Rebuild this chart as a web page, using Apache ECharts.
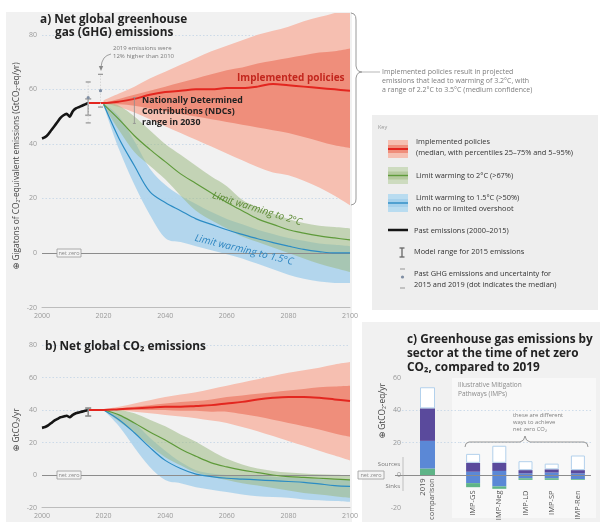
<!DOCTYPE html>
<html>
<head>
<meta charset="utf-8">
<script src="https://cdn.jsdelivr.net/npm/echarts@6/dist/echarts.min.js"></script>
<style>
  html, body { margin: 0; padding: 0; background: #fff; }
  #chart { width: 600px; height: 522px; }
</style>
</head>
<body>
<div id="chart"></div>
<script>
// ---------- data ----------
const pastYears = [2000, 2001, 2002, 2003, 2004, 2005, 2006, 2007, 2008, 2009, 2010, 2011, 2012, 2013, 2014, 2015];
const ghgPast = [42, 42.5, 43.5, 45, 46.5, 48, 49.5, 50.5, 51, 50, 52, 53, 53.5, 54, 54.5, 55];
const co2Past = [29, 29.5, 30.5, 32, 33.5, 34.5, 35.5, 36, 36.5, 35.5, 37, 38, 38.5, 39, 39.5, 40];

const redYears = [2015, 2020, 2025, 2030, 2035, 2040, 2045, 2050, 2055, 2060, 2065, 2070, 2075, 2080, 2085, 2090, 2095, 2100];
const scenYears = [2020, 2025, 2030, 2035, 2040, 2045, 2050, 2055, 2060, 2065, 2070, 2075, 2080, 2085, 2090, 2095, 2100];

// a) net GHG, GtCO2-eq/yr
const policyMedGhg = [55, 55, 55.5, 56.5, 58, 59, 59.5, 60, 60, 60.5, 60.5, 61, 62, 61.5, 61, 60.5, 60, 59.5];
const policyP5Ghg  = [55, 53.5, 51.5, 49, 46.5, 44, 41.5, 39, 36.5, 34, 31.5, 29.5, 28.5, 26.5, 24, 21, 17.5];
const policyP25Ghg = [55, 54.5, 54, 53, 52, 51, 50, 49, 48, 47, 46, 45, 44, 42.5, 41, 39.5, 38.5];
const policyP75Ghg = [55, 56.5, 58, 59.5, 61, 62.5, 64, 65.5, 67, 68, 69.5, 70.5, 71.5, 72.5, 73.5, 74, 75];
const policyP95Ghg = [56, 58.5, 61, 64, 66.5, 69, 71.5, 74, 76, 78, 80, 81.5, 83, 85, 86.5, 88, 90];
const twoMedGhg  = [54.5, 49, 43, 38, 33.5, 29, 25.5, 22, 18.5, 15.5, 12.5, 10.5, 8.5, 7.3, 6.3, 5.5, 4.8];
const twoLowGhg  = [54, 45, 37, 32, 27, 21, 15.5, 12, 9, 6, 4, 2, 0, -2, -4, -5.5, -7];
const twoHighGhg = [55.5, 54, 50, 45, 40, 36, 32, 28, 24.5, 19.5, 16.5, 14.5, 12.5, 11, 10, 9.5, 9];
const oneFiveMedGhg  = [54.5, 42, 32, 22.5, 18.5, 15.5, 12.5, 10.5, 8.5, 6.8, 5.2, 3.8, 2.5, 1.3, 0.5, 0, 0];
const oneFiveLowGhg  = [54, 38, 25, 14, 5.5, 4, 2.5, 1, -0.5, -2, -4, -6, -8, -9.5, -10.5, -11, -11];
const oneFiveHighGhg = [55, 50, 41, 31, 25, 21, 18, 15, 12.5, 10.5, 8.5, 7, 5.5, 4.5, 3.5, 3, 2.5];

// uncertainty markers, GtCO2-eq/yr: [year, low, high] and [year, low, median, high]
const modelRange2015Ghg = [[2015, 50.5, 56.5]];
const pastUncertaintyGhg = [[2015, 47.7, 57, 62.7], [2019, 53.5, 59.5, 65.5]];
const ndcRange2030 = [[2030, 47.5, 57]];

// b) net CO2, GtCO2/yr
const policyMedCo2 = [40, 40, 40.5, 41, 41.5, 42, 42, 42.5, 43, 44, 45, 46.5, 47.5, 48, 48, 47.5, 46.5, 45.5];
const policyP5Co2  = [40, 39.5, 39, 38, 37, 36, 35, 33.5, 32, 29.5, 27, 24, 21, 18, 15, 12, 9];
const policyP25Co2 = [40, 40, 40, 40, 40, 39.5, 39.5, 39, 39, 37.5, 36, 34, 32, 30, 28, 25.5, 23.5];
const policyP75Co2 = [40, 41, 42, 43, 44, 45, 45.5, 46.5, 48, 49, 50, 51, 52, 53, 54, 54.5, 55];
const policyP95Co2 = [40.5, 42, 44, 46, 48, 49.5, 51, 53, 55, 57, 59, 61, 63, 64.5, 66, 68, 69.5];
const twoMedCo2  = [40, 37, 32, 26.5, 21.5, 16, 11.5, 7.5, 5, 3, 1.5, 0, -1, -1.5, -2, -2.5, -3];
const twoLowCo2  = [40, 33, 26, 18, 11, 6, 1.5, -1, -3, -5, -6.5, -8, -9.5, -11, -12, -13, -14];
const twoHighCo2 = [40.5, 40, 38, 34, 30, 25, 20.5, 15, 10, 6.5, 4, 2.5, 1.5, 1, 0.5, 0.2, 0];
const oneFiveMedCo2  = [40, 34, 26, 17, 9, 4, 0.5, -1, -2, -2.5, -3, -3.5, -4, -4.5, -5.5, -6.5, -7];
const oneFiveLowCo2  = [40, 30, 17, 5, -3, -5, -7.5, -9, -10.5, -12, -13, -13.5, -14, -15, -15.5, -16, -16.5];
const oneFiveHighCo2 = [40.5, 37, 32, 23, 15, 8, 3, 1, 0, 0, -0.5, -1, -1.5, -2, -2.5, -3, -3];
const modelRange2015Co2 = [[2015, 36.3, 41.2]];

// c) emissions by sector at net zero CO2, GtCO2-eq/yr
const sectorCategories = ['2019\ncomparison', 'IMP-GS', 'IMP-Neg', 'IMP-LD', 'IMP-SP', 'IMP-Ren'];
const sectorGreenSrc  = [4, 0, 0, 0, 0, 0];
const sectorBlueSrc   = [17, 2, 2.5, 1, 1.5, 1];
const sectorPurpleSrc = [20, 5.5, 5, 2, 2, 2];
const sectorOtherSrc  = [13, 5.5, 10.5, 5.5, 3.5, 9];
const sectorBlueSink  = [0, -5, -7, -2, -2, -2.5];
const sectorGreenSink = [0, -2.5, -1.5, -1, -1, -0.5];

const yearTicks = [2000, 2020, 2040, 2060, 2080, 2100];

// ---------- styling ----------
const FONT = '"Open Sans", "Noto Sans", "DejaVu Sans", sans-serif';
const C = {
  bg: '#f1f1f1',
  redLight: '#f6bfb1', redDark: '#ef8e7b', redLine: '#e3261f',
  green: '#9db983', greenLine: '#5e9a3a',
  blue: '#acd3ec', blueLine: '#2b8cc4',
  grid: '#c3d4e6', axis: '#999', zero: '#8c8c8c'
};

function pairs(xs, ys) { return xs.map((x, i) => [x, ys[i]]); }

// cubic segments through screen points (Catmull-Rom), without the leading move
function smoothSegments(p) {
  let d = '';
  for (let i = 0; i < p.length - 1; i++) {
    const p0 = p[Math.max(i - 1, 0)], p1 = p[i], p2 = p[i + 1], p3 = p[Math.min(i + 2, p.length - 1)];
    const c1x = p1[0] + (p2[0] - p0[0]) / 6, c1y = p1[1] + (p2[1] - p0[1]) / 6;
    const c2x = p2[0] - (p3[0] - p1[0]) / 6, c2y = p2[1] - (p3[1] - p1[1]) / 6;
    d += ' C' + c1x + ',' + c1y + ' ' + c2x + ',' + c2y + ' ' + p2[0] + ',' + p2[1];
  }
  return d;
}

// shaded range between two percentile curves
function band(gi, xs, lo, hi, color, opacity, z) {
  const rows = xs.map((x, i) => [x, lo[i], hi[i]]);
  return {
    type: 'custom', xAxisIndex: gi, yAxisIndex: gi, data: rows, silent: true, z: z,
    encode: { x: 0, y: [1, 2] },
    renderItem(params, api) {
      if (params.dataIndex !== 0) return null;
      const up = rows.map(r => api.coord([r[0], r[2]]));
      const dn = rows.map(r => api.coord([r[0], r[1]])).reverse();
      const d = 'M' + up[0][0] + ',' + up[0][1] + smoothSegments(up) +
        ' L' + dn[0][0] + ',' + dn[0][1] + smoothSegments(dn) + ' Z';
      const cs = params.coordSys;
      return {
        type: 'path', shape: { pathData: d }, style: { fill: color, opacity: opacity },
        clipPath: { type: 'rect', shape: { x: cs.x, y: cs.y, width: cs.width, height: cs.height } }
      };
    }
  };
}

function line(gi, xs, ys, color, width, z, extra) {
  return Object.assign({
    type: 'line', xAxisIndex: gi, yAxisIndex: gi, data: pairs(xs, ys), symbol: 'none',
    smooth: 0.35, silent: true, lineStyle: { color, width }, z: z
  }, extra || {});
}

function zeroMark() {
  return {
    silent: true, symbol: 'none', label: { show: false },
    lineStyle: { color: C.zero, width: 1, type: 'solid' }, data: [{ yAxis: 0 }]
  };
}

// vertical range bar with end caps
function rangeBars(gi, rows, color, capHalf, width) {
  return {
    type: 'custom', xAxisIndex: gi, yAxisIndex: gi, data: rows, silent: true, z: 9,
    encode: { x: 0, y: [1, 2] },
    renderItem(params, api) {
      const x = api.value(0);
      const lo = api.coord([x, api.value(1)]);
      const hi = api.coord([x, api.value(2)]);
      const st = { stroke: color, lineWidth: width };
      return { type: 'group', children: [
        { type: 'line', shape: { x1: lo[0], y1: lo[1], x2: hi[0], y2: hi[1] }, style: st },
        { type: 'line', shape: { x1: lo[0] - capHalf, y1: lo[1], x2: lo[0] + capHalf, y2: lo[1] }, style: st },
        { type: 'line', shape: { x1: hi[0] - capHalf, y1: hi[1], x2: hi[0] + capHalf, y2: hi[1] }, style: st }
      ] };
    }
  };
}

// past emission uncertainty: dashes at the bounds, dot at the median
function pastMarkers(gi, rows) {
  return {
    type: 'custom', xAxisIndex: gi, yAxisIndex: gi, data: rows, silent: true, z: 10,
    encode: { x: 0, y: [1, 2, 3] },
    renderItem(params, api) {
      const x = api.value(0);
      const lo = api.coord([x, api.value(1)]);
      const md = api.coord([x, api.value(2)]);
      const hi = api.coord([x, api.value(3)]);
      const dash = { stroke: '#9a9a9a', lineWidth: 1.3 };
      return { type: 'group', children: [
        { type: 'line', shape: { x1: lo[0], y1: lo[1], x2: hi[0], y2: hi[1] }, style: { stroke: '#cfcfcf', lineWidth: 0.8, lineDash: [1.5, 1.5] } },
        { type: 'line', shape: { x1: lo[0] - 2.5, y1: lo[1], x2: lo[0] + 2.5, y2: lo[1] }, style: dash },
        { type: 'line', shape: { x1: hi[0] - 2.5, y1: hi[1], x2: hi[0] + 2.5, y2: hi[1] }, style: dash },
        { type: 'circle', shape: { cx: md[0], cy: md[1], r: 1.6 }, style: { fill: '#7f8ea3' } }
      ] };
    }
  };
}

function scenarioPanel(gi, d) {
  return [
    band(gi, scenYears, d.p5, d.p95, C.redLight, 1, 3),
    band(gi, scenYears, d.p25, d.p75, C.redDark, 1, 3),
    band(gi, scenYears, d.bLo, d.bHi, C.blue, 0.9, 3),
    band(gi, scenYears, d.gLo, d.gHi, C.green, 0.55, 3),
    line(gi, scenYears, d.bMed, C.blueLine, 1.2, 5),
    line(gi, scenYears, d.gMed, C.greenLine, 1.2, 5),
    line(gi, redYears, d.pMed, C.redLine, 2, 6),
    line(gi, pastYears, d.past, '#151515', 2.6, 7, { smooth: 0.2, markLine: zeroMark() })
  ];
}

const series = [].concat(
  scenarioPanel(0, {
    p5: policyP5Ghg, p25: policyP25Ghg, p75: policyP75Ghg, p95: policyP95Ghg, pMed: policyMedGhg,
    gLo: twoLowGhg, gHi: twoHighGhg, gMed: twoMedGhg,
    bLo: oneFiveLowGhg, bHi: oneFiveHighGhg, bMed: oneFiveMedGhg, past: ghgPast
  }),
  [
    rangeBars(0, modelRange2015Ghg, '#a3a3a3', 3, 1.6),
    pastMarkers(0, pastUncertaintyGhg),
    rangeBars(0, ndcRange2030, '#8f8f8f', 1.5, 0.8)
  ],
  scenarioPanel(1, {
    p5: policyP5Co2, p25: policyP25Co2, p75: policyP75Co2, p95: policyP95Co2, pMed: policyMedCo2,
    gLo: twoLowCo2, gHi: twoHighCo2, gMed: twoMedCo2,
    bLo: oneFiveLowCo2, bHi: oneFiveHighCo2, bMed: oneFiveMedCo2, past: co2Past
  }),
  [rangeBars(1, modelRange2015Co2, '#8a8a8a', 3, 1.6)]
);

// sector bars: index 0 goes to the 2019 panel, the rest to the pathway panel
function sectorSeries(gi, part) {
  const pick = arr => (part === 0 ? arr.slice(0, 1) : arr.slice(1));
  const base = { type: 'bar', xAxisIndex: gi, yAxisIndex: gi, stack: 'sec' + gi, barWidth: part === 0 ? 15 : 14, silent: true, z: 4 };
  return [
    Object.assign({}, base, { data: pick(sectorGreenSrc), itemStyle: { color: '#5fb487' } }),
    Object.assign({}, base, { data: pick(sectorBlueSrc), itemStyle: { color: '#5b88d6' } }),
    Object.assign({}, base, { data: pick(sectorPurpleSrc), itemStyle: { color: '#5a4a9c' } }),
    Object.assign({}, base, { data: pick(sectorOtherSrc), itemStyle: { color: '#ffffff', borderColor: '#b3d1ec', borderWidth: 1 } }),
    Object.assign({}, base, { data: pick(sectorBlueSink), itemStyle: { color: '#5b88d6' } }),
    Object.assign({}, base, { data: pick(sectorGreenSink), itemStyle: { color: '#5fb487' }, markLine: zeroMark() })
  ];
}
series.push(...sectorSeries(2, 0), ...sectorSeries(3, 1));

// ---------- axes ----------
const labelStyle = { fontSize: 7, color: C.axis, fontFamily: FONT };
function yearAxis(gi) {
  return {
    gridIndex: gi, type: 'value', min: 2000, max: 2100, interval: 20,
    axisLine: { show: true, onZero: false, lineStyle: { color: '#bdbdbd', width: 1 } },
    axisTick: { show: false }, splitLine: { show: false },
    axisLabel: Object.assign({ margin: 5, formatter: v => (yearTicks.includes(v) ? String(v) : '') }, labelStyle)
  };
}
function valueAxis(gi, min, max, extra) {
  return Object.assign({
    gridIndex: gi, type: 'value', min, max, interval: 20,
    axisLine: { show: false }, axisTick: { show: false },
    axisLabel: Object.assign({ margin: 5, formatter: v => (v % 20 === 0 ? String(v) : '') }, labelStyle),
    splitLine: { show: true, showMinLine: false, showMaxLine: false, lineStyle: { color: C.grid, width: 0.8, type: [1.5, 2] } }
  }, extra || {});
}
// category labels sit just under each bar, so they are pulled up from the grid bottom
function catAxis(gi, cats, margin) {
  return {
    gridIndex: gi, type: 'category', data: cats, position: 'bottom',
    axisLine: { show: false, onZero: false }, axisTick: { show: false },
    axisLabel: { interval: 0, rotate: 90, margin: margin, fontSize: 7.5, color: '#555', fontFamily: FONT, lineHeight: 8.5 }
  };
}

// ---------- annotations ----------
function txt(x, y, text, o) {
  o = o || {};
  return {
    type: 'text', x, y, rotation: o.rot || 0, z: 60, silent: true,
    style: {
      text, fill: o.color || '#333', fontSize: o.size || 7, fontFamily: FONT,
      fontWeight: o.weight || 'normal', fontStyle: o.style || 'normal',
      align: o.align || 'left', verticalAlign: o.va || 'middle'
    }
  };
}
function rect(x, y, w, h, fill, z, stroke) {
  return { type: 'rect', shape: { x, y, width: w, height: h }, z: z === undefined ? -5 : z, silent: true,
    style: { fill, stroke: stroke || null, lineWidth: stroke ? 0.8 : 0 } };
}
function seg(x1, y1, x2, y2, color, w, z) {
  return { type: 'line', shape: { x1, y1, x2, y2 }, z: z || 60, silent: true, style: { stroke: color, lineWidth: w } };
}
function poly(points, color, w) {
  return { type: 'polyline', shape: { points }, z: 60, silent: true, style: { stroke: color, lineWidth: w, fill: null } };
}
function netZeroTag(x, y, w) {
  return [rect(x, y - 4, w, 8, '#f4f4f4', 55, '#9a9a9a'), txt(x + w / 2, y, 'net zero', { size: 5.5, color: '#888', align: 'center' })];
}

const TITLE = { size: 11.8, weight: 'bold', color: '#222' };
const graphics = [
  // panel backgrounds
  rect(6, 12, 346, 510, C.bg, -10),
  rect(372, 115, 226, 195, '#eeeeee', -10),
  rect(362, 322, 238, 200, C.bg, -10),
  rect(452, 378, 144, 140, '#f8f8f8', -9),

  // titles
  txt(40, 20, 'a) Net global greenhouse', TITLE),
  txt(55, 33, 'gas (GHG) emissions', TITLE),
  txt(45, 347, 'b) Net global CO₂ emissions', TITLE),
  txt(407, 340, 'c) Greenhouse gas emissions by', TITLE),
  txt(407, 354, 'sector at the time of net zero', TITLE),
  txt(407, 368, 'CO₂, compared to 2019', TITLE),

  // axis titles
  txt(17, 166, '⊕ Gigatons of CO₂-equivalent emissions (GtCO₂-eq/yr)', { rot: Math.PI / 2, align: 'center', size: 8.3, color: '#444' }),
  txt(17, 430, '⊕ GtCO₂/yr', { rot: Math.PI / 2, align: 'center', size: 8.3, color: '#444' }),
  txt(383, 411, '⊕ GtCO₂-eq/yr', { rot: Math.PI / 2, align: 'center', size: 8.3, color: '#444' }),

  // in-plot labels, panel a
  txt(237, 78, 'Implemented policies', { size: 10, weight: 'bold', color: '#c3261d' }),
  txt(142, 100, 'Nationally Determined', { size: 8.8, weight: 'bold', color: '#222' }),
  txt(142, 111, 'Contributions (NDCs)', { size: 8.8, weight: 'bold', color: '#222' }),
  txt(142, 122, 'range in 2030', { size: 8.8, weight: 'bold', color: '#222' }),
  txt(257, 209, 'Limit warming to 2°C', { rot: -0.3, align: 'center', size: 10, style: 'italic', color: '#5b8a33' }),
  txt(244, 250, 'Limit warming to 1.5°C', { rot: -0.24, align: 'center', size: 10, style: 'italic', color: '#2e86c1' }),
  txt(113, 48, '2019 emissions were', { size: 6, color: '#7a7a7a' }),
  txt(113, 56, '12% higher than 2010', { size: 6, color: '#7a7a7a' }),
  poly([[111, 54], [107, 55.5], [104, 58], [102, 62], [101, 67]], '#8a8a8a', 0.8),
  { type: 'polygon', z: 60, silent: true, shape: { points: [[98.8, 66], [101, 71], [103.2, 66]] }, style: { fill: '#8a8a8a' } },
  ...netZeroTag(57, 253, 24),
  ...netZeroTag(57, 475, 24),
  ...netZeroTag(358, 475, 26),

  // brace and note for implemented policies
  poly([[351, 13], [354, 14], [355.6, 16.5], [356, 20], [356, 66], [357, 69.5], [359, 71.3], [362, 72], [359, 72.7], [357, 74.5], [356, 78], [356, 199], [355.6, 202], [354, 204], [351, 205]], '#9a9a9a', 1),
  seg(362, 72, 380, 72, '#9a9a9a', 0.7),
  txt(382, 72, 'Implemented policies result in projected', { size: 7, color: '#7d7d7d' }),
  txt(382, 81, 'emissions that lead to warming of 3.2°C, with', { size: 7, color: '#7d7d7d' }),
  txt(382, 90, 'a range of 2.2°C to 3.5°C (medium confidence)', { size: 7, color: '#7d7d7d' }),

  // key
  txt(378, 127, 'Key', { size: 5.5, color: '#999' }),
  rect(388, 140, 20, 18, C.redLight, 55), rect(388, 145, 20, 8, C.redDark, 56), seg(388, 149, 408, 149, C.redLine, 2),
  rect(388, 167, 20, 17, '#cddbbf', 55), rect(388, 171.5, 20, 8, '#b5ca9f', 56), seg(388, 175.5, 408, 175.5, C.greenLine, 1.4),
  rect(388, 194, 20, 18, '#b9dcf0', 55), rect(388, 199, 20, 8, '#a6d1ec', 56), seg(388, 203, 408, 203, C.blueLine, 1.4),
  seg(388, 230, 408, 230, '#151515', 2.5),
  seg(402, 248, 402, 257, '#666', 1.3), seg(399.5, 248, 404.5, 248, '#666', 1.3), seg(399.5, 257, 404.5, 257, '#666', 1.3),
  seg(400, 269, 405, 269, '#aaa', 1.3), seg(400, 288, 405, 288, '#aaa', 1.3),
  { type: 'circle', z: 60, silent: true, shape: { cx: 402.5, cy: 277, r: 1.6 }, style: { fill: '#7f8ea3' } },
  txt(416, 142, 'Implemented policies', { size: 7.4 }),
  txt(416, 153, '(median, with percentiles 25–75% and 5–95%)', { size: 7.4 }),
  txt(416, 176, 'Limit warming to 2°C (>67%)', { size: 7.4 }),
  txt(416, 198, 'Limit warming to 1.5°C (>50%)', { size: 7.4 }),
  txt(416, 209, 'with no or limited overshoot', { size: 7.4 }),
  txt(414, 231, 'Past emissions (2000–2015)', { size: 7.4 }),
  txt(414, 252, 'Model range for 2015 emissions', { size: 7.4 }),
  txt(414, 274, 'Past GHG emissions and uncertainty for', { size: 7.4 }),
  txt(414, 285, '2015 and 2019 (dot indicates the median)', { size: 7.4 }),

  // panel c notes
  txt(458, 385, 'Illustrative Mitigation', { size: 6.5, color: '#8a8a8a' }),
  txt(458, 394, 'Pathways (IMPs)', { size: 6.5, color: '#8a8a8a' }),
  txt(513, 415, 'these are different', { size: 5.8, color: '#7d7d7d' }),
  txt(513, 422, 'ways to achieve', { size: 5.8, color: '#7d7d7d' }),
  txt(513, 429, 'net zero CO₂', { size: 5.8, color: '#7d7d7d' }),
  poly([[465, 447], [466, 443.5], [469, 442], [520, 442], [523.5, 440], [525, 436], [526.5, 440], [530, 442], [584, 442], [587, 443.5], [588, 447]], '#8a8a8a', 0.9),
  txt(400, 464, 'Sources', { size: 6, color: '#777', align: 'right' }),
  txt(400, 486, 'Sinks', { size: 6, color: '#777', align: 'right' }),
  seg(403, 457, 403, 491, '#aaa', 0.7)
];

const option = {
  animation: false,
  backgroundColor: '#ffffff',
  textStyle: { fontFamily: FONT },
  grid: [
    { left: 42, top: 13, width: 308, height: 294.5, containLabel: false, outerBoundsMode: 'none' },
    { left: 42, top: 332, width: 308, height: 175.5, containLabel: false, outerBoundsMode: 'none' },
    { left: 395, top: 377.5, width: 65, height: 130, containLabel: false, outerBoundsMode: 'none' },
    { left: 460, top: 377.5, width: 131, height: 130, containLabel: false, outerBoundsMode: 'none' }
  ],
  xAxis: [yearAxis(0), yearAxis(1), catAxis(2, sectorCategories.slice(0, 1), -29), catAxis(3, sectorCategories.slice(1), -17)],
  yAxis: [
    valueAxis(0, -20, 88),
    valueAxis(1, -20, 88),
    valueAxis(2, -20, 60, { offset: -8, axisLabel: Object.assign({ margin: 2 }, labelStyle) }),
    valueAxis(3, -20, 60, { axisLabel: { show: false } })
  ],
  series,
  graphic: { elements: graphics }
};

const chart = echarts.init(document.getElementById('chart'), null, { renderer: 'canvas' });
chart.setOption(option);
</script>
</body>
</html>
